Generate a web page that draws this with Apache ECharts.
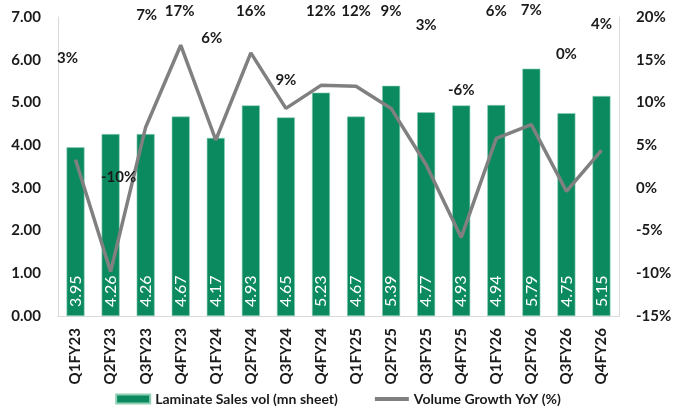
<!DOCTYPE html>
<html>
<head>
<meta charset="utf-8">
<script src="https://cdn.jsdelivr.net/npm/echarts@6/dist/echarts.min.js"></script>
<style>
  html, body { margin: 0; padding: 0; background: #fff; }
  #chart { width: 676px; height: 414px; }
</style>
</head>
<body>
<div id="chart"></div>
<script>
const quarters = ['Q1FY23', 'Q2FY23', 'Q3FY23', 'Q4FY23', 'Q1FY24', 'Q2FY24', 'Q3FY24', 'Q4FY24',
  'Q1FY25', 'Q2FY25', 'Q3FY25', 'Q4FY25', 'Q1FY26', 'Q2FY26', 'Q3FY26', 'Q4FY26']
const salesVol = [3.95, 4.26, 4.26, 4.67, 4.17, 4.93, 4.65, 5.23, 4.67, 5.39, 4.77, 4.93, 4.94, 5.79, 4.75, 5.15]
const growthYoY = [3.3, -9.8, 7.1, 16.7, 5.6, 15.8, 9.3, 12.0, 11.9, 9.3, 2.7, -5.8, 5.8, 7.4, -0.4, 4.4]
// label nudges (px) for the growth labels, as placed in the source
const labelDx = [-8, 8, 1, -1, -4, 0, 0, 0, 0, 0, 0, 0, 0, 0, 0, 0]
const labelDy = [-102, -94, -112, -34, -102, -42, -28, -74, -75, -97, -140, -147, -127, -114, -137, -126]

const font = 'Lato, "Liberation Sans", sans-serif'
const green = '#0b8a60'
const grey = '#808080'
const ink = '#1a1a1a'

const chart = echarts.init(document.getElementById('chart'))
chart.setOption({
  animation: false,
  textStyle: { fontFamily: font },
  grid: { left: 58, right: 57, top: 17, bottom: 98 },
  legend: {
    bottom: 3,
    left: 'center',
    itemGap: 35,
    textStyle: { fontFamily: font, fontSize: 14, fontWeight: 'bold', color: ink },
    data: [
      { name: 'Laminate Sales vol (mn sheet)', icon: 'rect', itemStyle: { color: green } },
      {
        name: 'Volume Growth YoY (%)',
        itemStyle: { color: 'rgba(0,0,0,0)', borderWidth: 0 },
        lineStyle: { color: grey, width: 4 }
      }
    ],
    itemWidth: 34,
    itemHeight: 9
  },
  xAxis: {
    type: 'category',
    data: quarters,
    axisLine: { lineStyle: { color: '#d9d9d9' } },
    axisTick: { show: false },
    axisLabel: { rotate: 90, margin: 12, fontSize: 15, fontWeight: 'bold', color: ink, interval: 0 }
  },
  yAxis: [
    {
      type: 'value', min: 0, max: 7, interval: 1,
      splitLine: { show: false },
      axisLine: { show: true, lineStyle: { color: '#d9d9d9' } },
      axisLabel: { fontSize: 15, fontWeight: 'bold', color: ink, margin: 17, formatter: v => v.toFixed(2) }
    },
    {
      type: 'value', min: -15, max: 20, interval: 5,
      splitLine: { show: false },
      axisLine: { show: true, lineStyle: { color: '#d9d9d9' } },
      axisLabel: { fontSize: 15, fontWeight: 'bold', color: ink, margin: 17, formatter: v => v + '%' }
    }
  ],
  series: [
    {
      name: 'Laminate Sales vol (mn sheet)',
      type: 'bar',
      data: salesVol,
      barWidth: 18,
      itemStyle: { color: green, borderColor: '#8fd0b4', borderWidth: 0.6 },
      label: {
        show: true,
        position: 'insideBottom',
        rotate: 90,
        align: 'left',
        verticalAlign: 'middle',
        distance: 9,
        color: '#fff',
        fontSize: 16,
        formatter: p => p.value.toFixed(2)
      }
    },
    {
      name: 'Volume Growth YoY (%)',
      type: 'line',
      yAxisIndex: 1,
      symbol: 'circle',
      symbolSize: 1,
      showSymbol: true,
      lineStyle: { color: grey, width: 3.5 },
      itemStyle: { color: grey },
      data: growthYoY.map((v, i) => ({
        value: v,
        label: { offset: [labelDx[i], labelDy[i]] }
      })),
      label: {
        show: true,
        position: 'inside',
        fontSize: 15,
        fontWeight: 'bold',
        color: ink,
        formatter: p => `${Math.round(p.value)}%`
      }
    }
  ]
})
</script>
</body>
</html>
